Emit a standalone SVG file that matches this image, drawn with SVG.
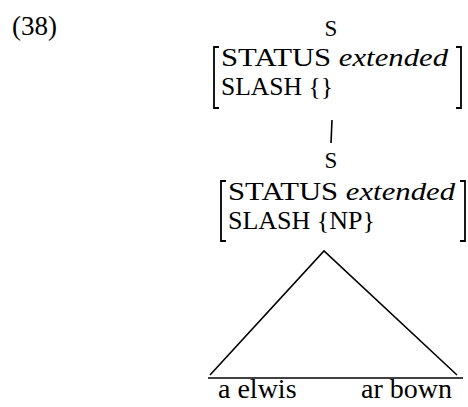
<svg xmlns="http://www.w3.org/2000/svg" width="468" height="407" viewBox="0 0 468 407">
<style>
.it{font-style:italic}
.br{fill:none;stroke:#000;stroke-width:1.8}
.ln{fill:none;stroke:#000;stroke-width:1.6}
</style>
<text x="12" y="35" font-family="Liberation Serif" font-size="27">(38)</text>
<g id="s-top">
<text x="331" y="36" font-family="Liberation Serif" font-size="23" text-anchor="middle">S</text>
<text x="221" y="66" font-family="Liberation Serif" font-size="26" textLength="227" lengthAdjust="spacingAndGlyphs">STATUS <tspan class="it">extended</tspan></text>
<text x="221" y="95" font-family="Liberation Serif" font-size="26" textLength="112" lengthAdjust="spacingAndGlyphs">SLASH {}</text>
<path class="br" d="M219 47 H214 V108 H219"/>
<path class="br" d="M456 47 H461 V108 H456"/>
</g>
<g id="s-mid">
<text x="331" y="168" font-family="Liberation Serif" font-size="23" text-anchor="middle">S</text>
<text x="228" y="200" font-family="Liberation Serif" font-size="26" textLength="227" lengthAdjust="spacingAndGlyphs">STATUS <tspan class="it">extended</tspan></text>
<text x="228" y="229" font-family="Liberation Serif" font-size="26" textLength="147" lengthAdjust="spacingAndGlyphs">SLASH {NP}</text>
<path class="br" d="M226 181 H221 V241 H226"/>
<path class="br" d="M460 181 H465 V241 H460"/>
</g>
<g id="leaves">
<text x="218" y="398" font-family="Liberation Serif" font-size="28">a elwis</text>
<text x="452" y="398" font-family="Liberation Serif" font-size="28" text-anchor="end">ar bown</text>
</g>
<g id="connectors">
<line class="ln" x1="332" y1="120" x2="331" y2="143"/>
<polyline class="ln" points="210,375 324,251 457,375"/>
<line class="ln" x1="208" y1="378" x2="463" y2="378"/>
</g>
</svg>
